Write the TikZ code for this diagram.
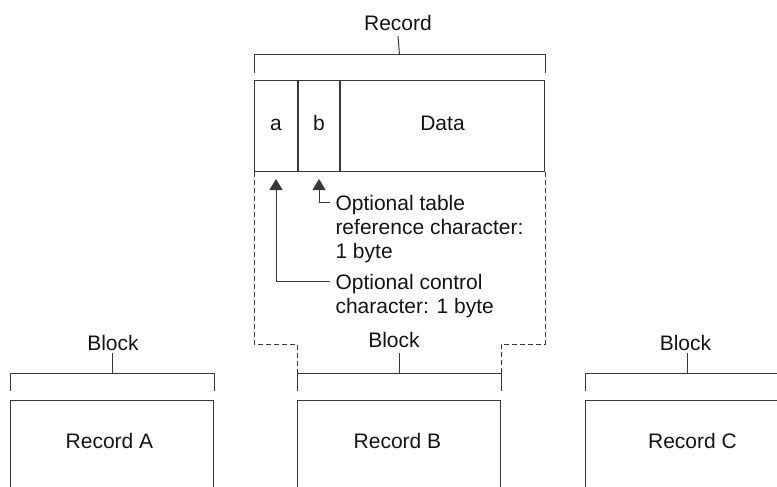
\documentclass[tikz,border=0pt]{standalone}
\usepackage{fontspec}
\setmainfont{Liberation Sans}
\usetikzlibrary{arrows.meta,calc}
\begin{document}
\begin{tikzpicture}[x=1pt,y=-1pt,line width=1pt,color=black!78,
  lbl/.style={font=\fontsize{21}{24}\selectfont,text=black!92,inner sep=0pt,anchor=base},
  cell/.style={draw,minimum height=91pt,inner sep=0pt,anchor=north west,
    font=\fontsize{21}{24}\selectfont,text=black!92,text height=15pt,text depth=6pt},
  recbox/.style={draw,minimum width=203pt,minimum height=120pt,inner sep=0pt,anchor=north west},
  dsh/.style={line width=0.9pt,dash pattern=on 5pt off 3pt},
  arr/.style={-{Triangle[width=13pt,length=11pt]}}]
\useasboundingbox (0,0) rectangle (777,487);
\clip (0,0) rectangle (777,487);
% record fields
\node[cell,minimum width=43pt] (fa) at (254,80) {a};
\node[cell,minimum width=41pt] (fb) at (fa.north east) {b};
\node[cell,minimum width=204pt] (fd) at (fb.north east) {Data};
% record bracket
\node[lbl] (reclbl) at (398,31) {Record};
\draw ($(fa.north west)+(0,-7)$) -- ++(0,-18) -| ($(fd.north east)+(0,-7)$);
\draw ($(fa.north west)!0.5!(fd.north east)+(0,-25)$) -- ($(reclbl.base)+(0,5)$);
% blocks
\node[recbox] (recA) at (10,400) {};
\node[recbox] (recB) at (297,400) {};
\node[recbox] (recC) at (585,400) {};
\node[lbl] (txtA) at ($(recA.north)+(-2.5,48)$) {Record A};
\node[lbl] (txtB) at ($(recB.north)+(-1.5,48)$) {Record B};
\node[lbl] (txtC) at ($(recC.north)+(5.5,48)$) {Record C};
\node[lbl] (blkA) at ($(recA.north)+(1,-50)$) {Block};
\node[lbl] (blkB) at ($(recB.north)+(-5,-53)$) {Block};
\node[lbl] (blkC) at ($(recC.north)+(-1.5,-50)$) {Block};
\foreach \b in {recA,recB,recC} {
  \draw ($(\b.north west)+(0,-9)$) -- ++(0,-18) -| ($(\b.north east)+(0,-9)$);
  \draw ($(\b.north)+(0,-27)$) -- ++(0,-20);
}
% dashed expansion lines
\draw[dsh] (fa.south west) |- ($(recB.north west)+(0,-56)$) -- ($(recB.north west)+(0,-27)$);
\draw[dsh] (fd.south east) |- ($(recB.north east)+(0,-56)$) -- ($(recB.north east)+(0,-27)$);
% annotations
\node[lbl,anchor=north west,align=left] (tbl) at (335,194.8) {Optional table\\reference character:\\1 byte};
\node[lbl,anchor=north west,align=left] (ctl) at (335,273.8) {Optional control\\character: 1 byte};
\draw[arr] ($(tbl.north west)+(-5,8)$) -| ($(fb.south)+(0,7)$);
\draw[arr] ($(ctl.north west)+(-5,8)$) -| ($(fa.south)+(0,7)$);
\end{tikzpicture}
\end{document}
